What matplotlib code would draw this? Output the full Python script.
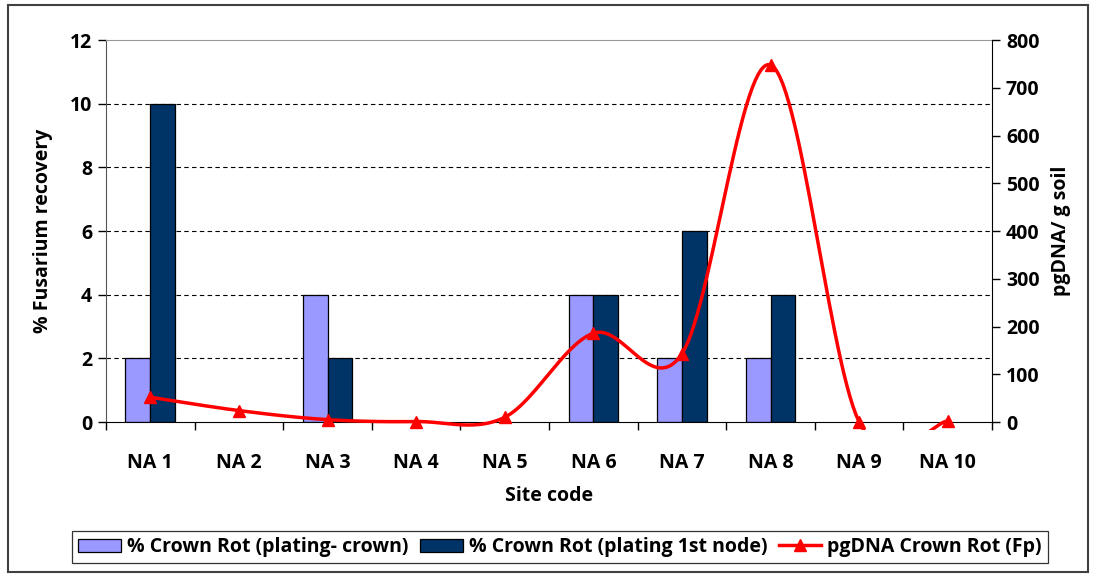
import matplotlib.pyplot as plt
import numpy as np
from matplotlib.patches import Rectangle
from matplotlib.lines import Line2D

plt.rcParams['font.family'] = ['Open Sans', 'DejaVu Sans']
plt.rcParams['font.weight'] = 'bold'
plt.rcParams['axes.labelweight'] = 'bold'

sites = ['NA 1', 'NA 2', 'NA 3', 'NA 4', 'NA 5', 'NA 6', 'NA 7', 'NA 8', 'NA 9', 'NA 10']
crown_plating = [2, 0, 4, 0, 0, 4, 2, 2, 0, 0]
node_plating = [10, 0, 2, 0, 0, 4, 6, 4, 0, 0]
pg_dna = [52, 24, 5, 1, 10, 186, 143, 748, 0, 2]


def smooth(xs, ys, n=30):
    # Excel style smoothed line: cubic bezier with catmull-rom tangents
    xs = np.asarray(xs, float)
    ys = np.asarray(ys, float)
    px, py = [], []
    m = len(xs)
    for i in range(m - 1):
        i0, i3 = max(i - 1, 0), min(i + 2, m - 1)
        p0 = np.array([xs[i], ys[i]])
        p3 = np.array([xs[i + 1], ys[i + 1]])
        c1 = p0 + (np.array([xs[i + 1], ys[i + 1]]) - np.array([xs[i0], ys[i0]])) / 6
        c2 = p3 - (np.array([xs[i3], ys[i3]]) - np.array([xs[i], ys[i]])) / 6
        t = np.linspace(0, 1, n)[:, None]
        pts = (1 - t) ** 3 * p0 + 3 * (1 - t) ** 2 * t * c1 + 3 * (1 - t) * t ** 2 * c2 + t ** 3 * p3
        px.extend(pts[:, 0])
        py.extend(pts[:, 1])
    return np.array(px), np.array(py)


fs = 14
fig = plt.figure(figsize=(10.96, 5.77), dpi=100)
ax = fig.add_axes([0.0967, 0.2686, 0.8085, 0.662])
x = np.arange(len(sites))
w = 0.28
crown = np.array(crown_plating, float)
node = np.array(node_plating, float)
m1 = crown > 0
m2 = node > 0
ax.bar(x[m1] - w / 2, crown[m1], w, color='#9999FF', edgecolor='black', linewidth=0.9, zorder=2)
ax.bar(x[m2] + w / 2, node[m2], w, color='#003366', edgecolor='black', linewidth=0.9, zorder=2)
ax.set_xlim(-0.5, len(sites) - 0.5)
ax.set_ylim(0, 12)
ax.set_yticks(range(0, 13, 2))
for v in range(2, 12, 2):
    ax.axhline(v, color='black', linestyle=(0, (4, 3)), linewidth=0.8, zorder=1)
ax.set_xticks(x)
ax.set_xticklabels(sites)
ax.set_xticks(np.arange(-0.5, len(sites), 1), minor=True)
ax.tick_params(axis='x', which='major', length=0, pad=22, labelsize=fs)
ax.tick_params(axis='x', which='minor', length=6, direction='out', width=1)
ax.tick_params(axis='y', length=6, width=1, labelsize=fs, pad=4)
ax.spines['top'].set_color('#999999')
ax.spines['left'].set_color('#555555')
ax.spines['right'].set_visible(False)
ax.set_ylabel('% Fusarium recovery', fontsize=fs, labelpad=12)
ax.set_xlabel('Site code', fontsize=fs, labelpad=10)

ax2 = ax.twinx()
ax2.set_ylim(0, 800)
ax2.set_yticks(range(0, 801, 100))
ax2.tick_params(axis='y', length=6, width=1, labelsize=fs, pad=4)
ax2.spines['right'].set_color('black')
ax2.spines['top'].set_visible(False)
ax2.spines['left'].set_visible(False)
ax2.spines['bottom'].set_visible(False)
sx, sy = smooth(x, pg_dna)
ln, = ax2.plot(sx, sy, color='red', linewidth=2.5, zorder=3)
ln.set_clip_path(Rectangle((0, -0.02), 1, 1.04, transform=ax2.transAxes))
ax2.plot(x, pg_dna, linestyle='none', marker='^', markersize=9, color='red', zorder=4,
         clip_on=False)
ax2.set_ylabel('pgDNA/ g soil', fontsize=fs, labelpad=8)

handles = [
    Rectangle((0, 0), 1, 1, facecolor='#9999FF', edgecolor='black', linewidth=0.9),
    Rectangle((0, 0), 1, 1, facecolor='#003366', edgecolor='black', linewidth=0.9),
    Line2D([], [], color='red', linewidth=2.5, marker='^', markersize=9),
]
labels = ['% Crown Rot (plating- crown)', '% Crown Rot (plating 1st node)', 'pgDNA Crown Rot (Fp)']
leg = fig.legend(handles, labels, loc='center', bbox_to_anchor=(0.511, 0.0515), ncol=3,
                 fontsize=fs, frameon=True, fancybox=False, edgecolor='black',
                 handlelength=2.2, handletextpad=0.3, columnspacing=0.6, borderpad=0.3)
leg.get_frame().set_linewidth(0.9)

fig.patches.append(Rectangle((8 / 1096, 5 / 577), 1 - 16 / 1096, 1 - 10 / 577,
                             transform=fig.transFigure, fill=False,
                             edgecolor='#404040', linewidth=1.5))

fig.savefig('out.png', dpi=100)
